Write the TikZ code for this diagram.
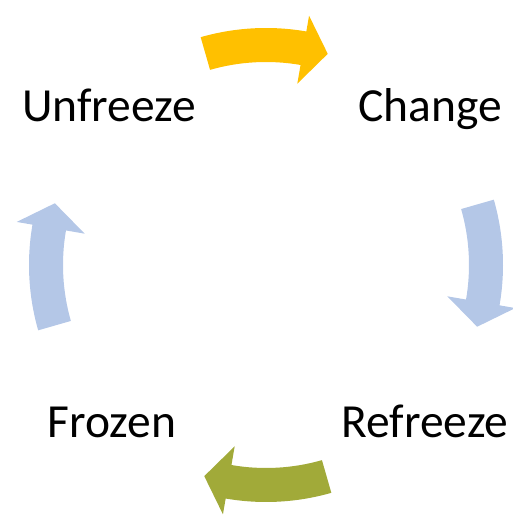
\documentclass[tikz,border=0pt]{standalone}
\usepackage{fontspec}
\setmainfont{Carlito}
\definecolor{goldarrow}{HTML}{FFC000}
\definecolor{bluearrow}{HTML}{B4C7E7}
\definecolor{olivearrow}{HTML}{A1AA39}
\begin{document}
\begin{tikzpicture}[x=1pt,y=1pt,
  stage/.style={inner sep=0pt, anchor=base, font=\fontsize{47.5}{56}\selectfont},
  cyclearrow/.style={fill=#1, draw=none}]
\useasboundingbox (0,0) rectangle (512,516);
\coordinate (c) at (266,251);
% curved block arrows running clockwise round the cycle; \a = middle angle
\foreach \a/\col in {90/goldarrow, 0/bluearrow, -90/olivearrow, 180/bluearrow}{
  \fill[cyclearrow=\col, shift={(c)}]
    (\a+16:237pt) arc[start angle=\a+16, end angle=\a-9.8, radius=237pt]
    -- (\a-9.8:253pt) -- (\a-16.3:220pt) -- (\a-9.8:184pt) -- (\a-9.8:203pt)
    arc[start angle=\a-9.8, end angle=\a+16, radius=203pt] -- cycle;
}
\node[stage] (unfreeze) at (109,394) {Unfreeze};
\node[stage] (change)   at (430,394) {Change};
\node[stage] (frozen)   at (112,78)  {Frozen};
\node[stage] (refreeze) at (425,78)  {Refreeze};
\end{tikzpicture}
\end{document}
